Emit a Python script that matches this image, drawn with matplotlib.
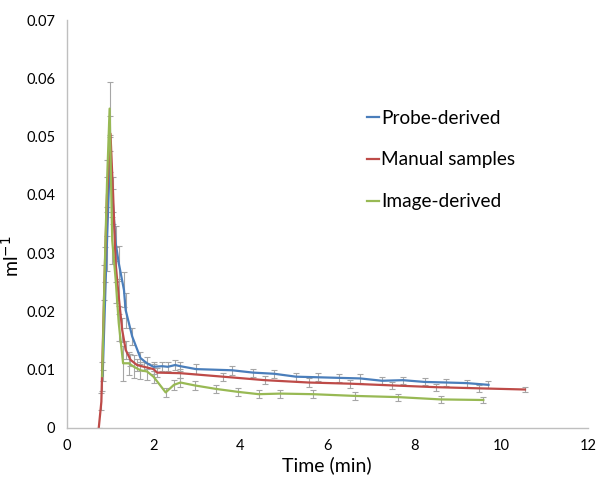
import matplotlib
matplotlib.use("Agg")
import matplotlib.pyplot as plt

# Probe-derived (blue)
probe_x = [0.83, 0.92, 1.0, 1.07, 1.13, 1.2, 1.32, 1.36, 1.51, 1.70, 1.85, 2.0, 2.2, 2.33, 2.5, 2.62,
           2.98, 3.81, 4.29, 4.78, 5.28, 5.78, 6.26, 6.76, 7.26, 7.74, 8.24, 8.74, 9.21, 9.71]
probe_y = [0.009, 0.030, 0.047, 0.038, 0.0317, 0.0283, 0.0237, 0.0202, 0.0157, 0.0120, 0.0111, 0.0105,
           0.0106, 0.0105, 0.0108, 0.0106, 0.0101, 0.0099, 0.0095, 0.0093, 0.0088, 0.0087, 0.0086,
           0.0085, 0.0081, 0.0082, 0.0079, 0.0078, 0.0077, 0.0074]
probe_err = [0.001, 0.003, 0.003, 0.003, 0.003, 0.003, 0.003, 0.003, 0.0015, 0.001, 0.001, 0.0008,
             0.0008, 0.0008, 0.0008, 0.0008, 0.0008, 0.0008, 0.0007, 0.0007, 0.0007, 0.0007, 0.0007,
             0.0007, 0.0006, 0.0006, 0.0006, 0.0006, 0.0006, 0.0006]

# Manual samples (red)
manual_x = [0.74, 0.80, 0.87, 0.93, 1.01, 1.07, 1.13, 1.2, 1.28, 1.36, 1.47, 1.62, 1.78, 2.0, 2.08,
            2.62, 3.6, 4.57, 5.57, 6.53, 7.5, 8.5, 9.5, 10.55]
manual_y = [0.0, 0.0045, 0.025, 0.040, 0.0505, 0.040, 0.028, 0.0225, 0.0168, 0.0134, 0.0117, 0.0108,
            0.0105, 0.0101, 0.0095, 0.0094, 0.0088, 0.0082, 0.0078, 0.0076, 0.0073, 0.0070, 0.0068,
            0.0066]
manual_err = [0.0, 0.0015, 0.003, 0.003, 0.003, 0.003, 0.003, 0.003, 0.002, 0.0015, 0.001, 0.001,
              0.0008, 0.0008, 0.0008, 0.0008, 0.0007, 0.0007, 0.0007, 0.0007, 0.0006, 0.0006, 0.0006,
              0.0005]

# Image-derived (green)
image_x = [0.82, 0.88, 0.93, 0.99, 1.05, 1.13, 1.2, 1.3, 1.43, 1.55, 1.70, 1.85, 2.0, 2.28, 2.47,
           2.62, 2.95, 3.44, 3.94, 4.42, 4.92, 5.66, 6.64, 7.62, 8.61, 9.59]
image_y = [0.0089, 0.028, 0.042, 0.0548, 0.0322, 0.0254, 0.018, 0.0111, 0.0111, 0.0105, 0.0099,
           0.0097, 0.0088, 0.0061, 0.0074, 0.0078, 0.0073, 0.0067, 0.0062, 0.0058, 0.0059, 0.0058,
           0.0055, 0.0053, 0.0049, 0.0048]
image_err = [0.0025, 0.003, 0.004, 0.0045, 0.004, 0.004, 0.003, 0.003, 0.002, 0.002, 0.0015, 0.0015,
             0.001, 0.0008, 0.0008, 0.0008, 0.0008, 0.0007, 0.0007, 0.0007, 0.0007, 0.0007, 0.0007,
             0.0006, 0.0006, 0.0006]

x_ticks = [0, 2, 4, 6, 8, 10, 12]
y_ticks = [0, 0.01, 0.02, 0.03, 0.04, 0.05, 0.06, 0.07]
y_tick_labels = ["0", "0.01", "0.02", "0.03", "0.04", "0.05", "0.06", "0.07"]

plt.rcParams['font.family'] = ['Lato', 'DejaVu Sans']

fig = plt.figure(figsize=(6.0, 4.88), dpi=100)
ax = fig.add_axes([0.111, 0.123, 0.869, 0.836])

series = [
    (probe_x, probe_y, probe_err, "#4A7EBB", "Probe-derived"),
    (manual_x, manual_y, manual_err, "#BE4B48", "Manual samples"),
    (image_x, image_y, image_err, "#98B954", "Image-derived"),
]
for xs, ys, es, col, lab in series:
    ax.errorbar(xs, ys, yerr=es, color=col, lw=1.6, ecolor="#A6A6A6", elinewidth=0.8,
                capsize=2, capthick=0.8, label=lab)

ax.set_xlim(0, 12)
ax.set_ylim(0, 0.07)
ax.set_xticks(x_ticks)
ax.set_xticklabels([str(t) for t in x_ticks])
ax.set_yticks(y_ticks)
ax.set_yticklabels(y_tick_labels)
ax.tick_params(length=0, labelsize=10.5, pad=8)
for s in ["top", "right"]:
    ax.spines[s].set_visible(False)
for s in ["left", "bottom"]:
    ax.spines[s].set_color("#BFBFBF")
    ax.spines[s].set_linewidth(1.0)

ax.set_xlabel("Time (min)", fontsize=14, labelpad=2)
ax.set_ylabel("ml$^{-1}$", fontsize=14, labelpad=6)
ax.yaxis.set_label_coords(-0.085, 0.42)

handles, labels = ax.get_legend_handles_labels()
handles = [h[0] for h in handles]
ax.legend(handles, labels, loc="center left", bbox_to_anchor=(0.543, 0.657), frameon=False,
          fontsize=13.7, handlelength=0.65, handletextpad=0.1, labelspacing=1.3)

fig.savefig("out.png", dpi=100)
